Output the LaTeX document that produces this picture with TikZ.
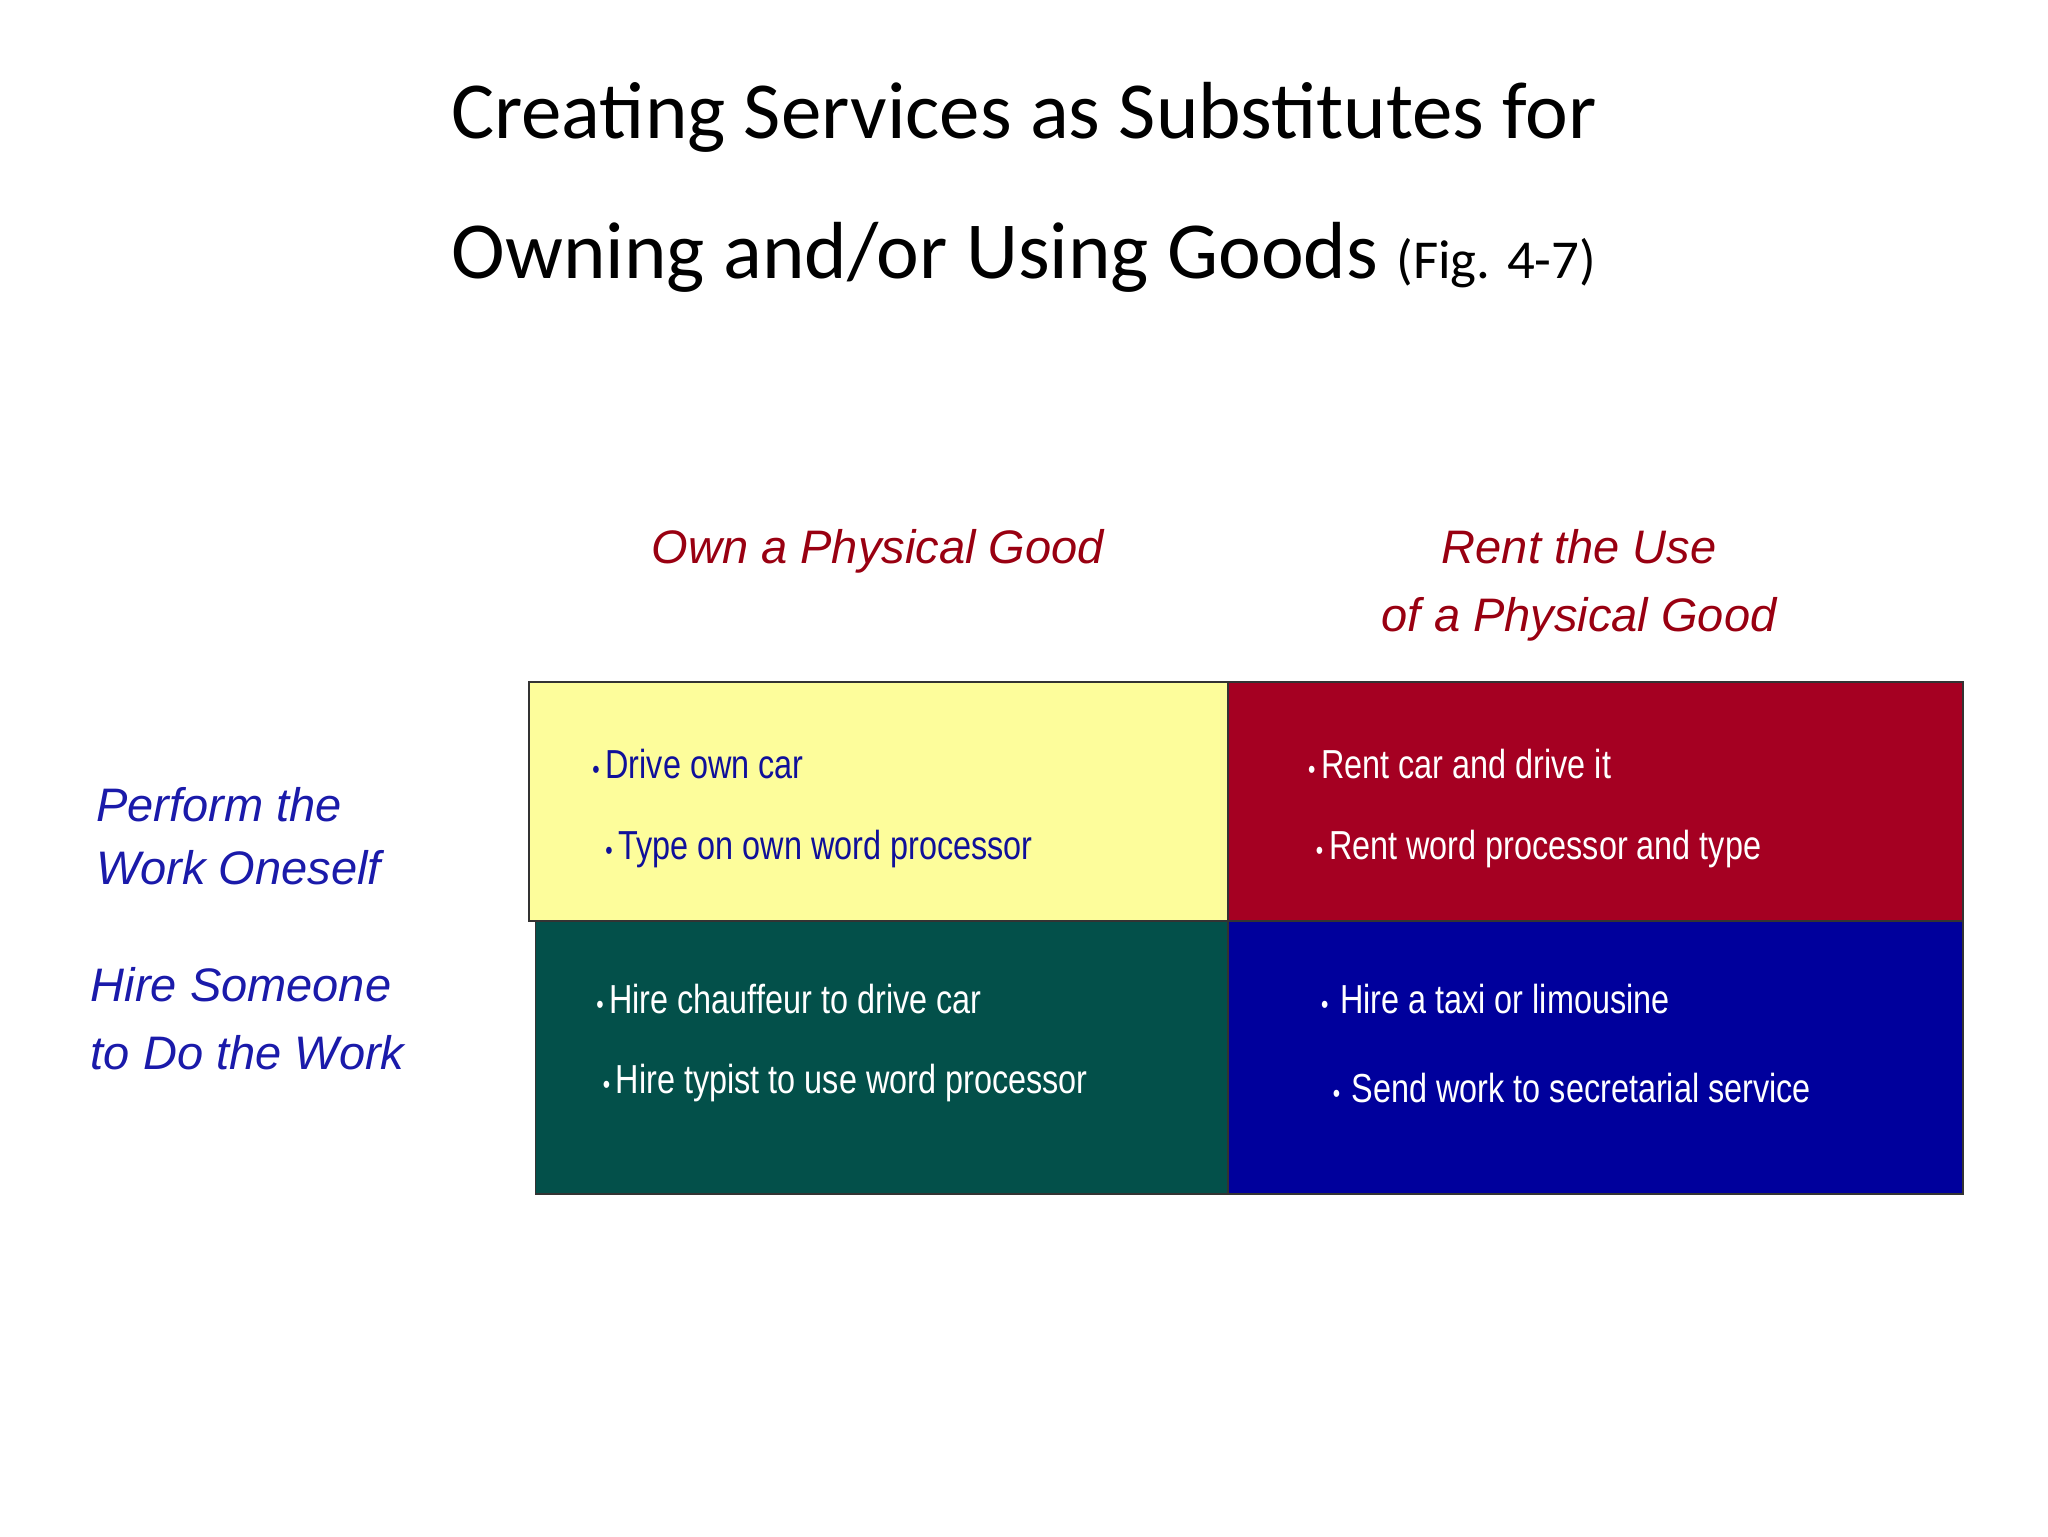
\documentclass[tikz,border=0pt]{standalone}
\usepackage{fontspec}
\setmainfont{Liberation Sans}
\newfontfamily\titlef{Carlito}
\newfontfamily\narrowf[FakeStretch=0.8]{Liberation Sans}
\definecolor{hdr}{HTML}{990011}
\definecolor{rowc}{HTML}{1A1AAA}
\definecolor{yel}{HTML}{FDFD9B}
\definecolor{redb}{HTML}{A50022}
\definecolor{grn}{HTML}{03504A}
\definecolor{blu}{HTML}{00009C}
\definecolor{ytext}{HTML}{10109A}
\begin{document}
\begin{tikzpicture}[x=1pt,y=-1pt,
  hd/.style={font=\fontsize{36}{52}\selectfont\itshape, text=hdr, align=center},
  rl/.style={font=\fontsize{36}{48}\selectfont\itshape, text=rowc, anchor=west, align=left},
  it/.style={font=\fontsize{31}{36}\selectfont\narrowf, anchor=west},
  cell/.style={draw=black!80, line width=1.5pt}]
\useasboundingbox (0,0) rectangle (1568,1176);
\node[font=\fontsize{62}{70}\selectfont\titlef] (t1) at (784,90) {Creating Services as Substitutes for};
\node[font=\fontsize{62}{70}\selectfont\titlef] (t2) at (784,197) {Owning and/or Using Goods {\fontsize{42}{50}\selectfont(Fig. 4-7)}};
\node[hd] (h1) at (672,422) {Own a Physical Good};
\node[hd] (h2) at (1209,448) {Rent the Use\\of a Physical Good};
\node[rl] (r1) at (70,640) {Perform the\\Work Oneself};
\node[rl] (r2) at (66,780) {Hire Someone\\[4pt]to Do the Work};
\fill[yel] (405,522) rectangle (940,705);
\draw[cell] (405,522) rectangle (940,705);
\fill[redb] (940,522) rectangle (1503,705);
\draw[cell] (940,522) rectangle (1503,705);
\fill[grn] (410,705) rectangle (940,914);
\draw[cell] (410,705) rectangle (940,914);
\fill[blu] (940,705) rectangle (1503,914);
\draw[cell] (940,705) rectangle (1503,914);
\node[it,text=ytext] (a1) at (450,585) {\fontsize{20}{20}\selectfont\textbullet\ \fontsize{31}{36}\selectfont Drive own car};
\node[it,text=ytext] (a2) at (460,650) {\fontsize{20}{20}\selectfont\textbullet\ \fontsize{31}{36}\selectfont Type on own word processor};
\node[it,text=white] (b1) at (998,585) {\fontsize{20}{20}\selectfont\textbullet\ \fontsize{31}{36}\selectfont Rent car and drive it};
\node[it,text=white] (b2) at (1004,650) {\fontsize{20}{20}\selectfont\textbullet\ \fontsize{31}{36}\selectfont Rent word processor and type};
\node[it,text=white] (c1) at (453,765) {\fontsize{20}{20}\selectfont\textbullet\ \fontsize{31}{36}\selectfont Hire chauffeur to drive car};
\node[it,text=white] (c2) at (458,829) {\fontsize{20}{20}\selectfont\textbullet\ \fontsize{31}{36}\selectfont Hire typist to use word processor};
\node[it,text=white] (d1) at (1008,765) {\fontsize{20}{20}\selectfont\textbullet\ \ \fontsize{31}{36}\selectfont Hire a taxi or limousine};
\node[it,text=white] (d2) at (1017,833) {\fontsize{20}{20}\selectfont\textbullet\ \ \fontsize{31}{36}\selectfont Send work to secretarial service};
\end{tikzpicture}
\end{document}
